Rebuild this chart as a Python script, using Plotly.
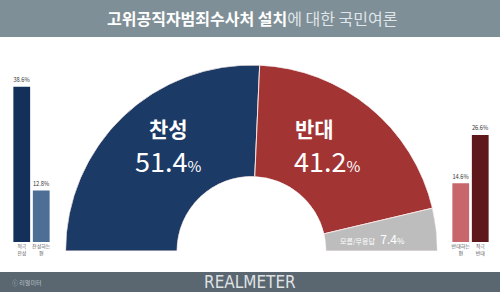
import plotly.graph_objects as go

# Data
main_labels = ["찬성", "반대", "모름/무응답"]
main_values = [51.4, 41.2, 7.4]
main_colors = ["#1c3a66", "#a23434", "#bdbdbd"]

left_cats = ["적극<br>찬성", "찬성하는<br>편"]
left_vals = [38.6, 12.8]
left_colors = ["#13305a", "#4d6f96"]

right_cats = ["반대하는<br>편", "적극<br>반대"]
right_vals = [14.6, 26.6]
right_colors = ["#c7676c", "#5e171b"]

FONT = "Noto Sans CJK KR"
W, H = 500, 292

def py(px):
    return (H - px) / H

def pxx(px):
    return px / W

# half donut via barpolar
total = sum(main_values)
widths = [v / total * 180 for v in main_values]
centers = []
acc = 0
for w in widths:
    centers.append(acc + w / 2)
    acc += w

fig = go.Figure()
fig.add_trace(go.Barpolar(
    r=[1] * len(main_values), theta=centers, width=widths,
    marker=dict(color=main_colors, line=dict(color="#f4e4e4", width=1)),
    subplot="polar", showlegend=False, hoverinfo="skip",
))

fig.add_trace(go.Bar(
    x=left_cats, y=left_vals, marker=dict(color=left_colors, line_width=0),
    text=[f"{v}%" for v in left_vals], textposition="outside",
    textfont=dict(size=7, color="#333333", family=FONT), cliponaxis=False,
    xaxis="x", yaxis="y", showlegend=False, width=0.86,
))
fig.add_trace(go.Bar(
    x=right_cats, y=right_vals, marker=dict(color=right_colors, line_width=0),
    text=[f"{v}%" for v in right_vals], textposition="outside",
    textfont=dict(size=7, color="#333333", family=FONT), cliponaxis=False,
    xaxis="x2", yaxis="y2", showlegend=False, width=0.86,
))

ymax = (242 - 62) / 4.02
axis_common = dict(showgrid=False, zeroline=False, showline=False)
fig.update_layout(
    width=W, height=H, margin=dict(l=0, r=0, t=0, b=0),
    paper_bgcolor="white", plot_bgcolor="rgba(0,0,0,0)",
    font=dict(family=FONT),
    bargap=0.1,
    polar=dict(
        domain=dict(x=[pxx(65), pxx(438)], y=[py(251), py(65)]),
        sector=[0, 180], hole=0.4, bgcolor="rgba(0,0,0,0)",
        radialaxis=dict(visible=False, range=[0, 1]),
        angularaxis=dict(visible=False, rotation=180, direction="clockwise"),
    ),
    xaxis=dict(domain=[pxx(12), pxx(51)], tickfont=dict(size=5, color="#555555"),
               ticks="", **axis_common),
    yaxis=dict(domain=[py(242), py(62)], range=[0, ymax], visible=False, **axis_common),
    xaxis2=dict(domain=[pxx(451), pxx(490)], tickfont=dict(size=5, color="#555555"),
                ticks="", **axis_common),
    yaxis2=dict(domain=[py(242), py(62)], range=[0, ymax], visible=False, **axis_common),
)

# header & footer bands
fig.add_shape(type="rect", xref="paper", yref="paper", x0=0, x1=1, y0=py(37), y1=1,
              fillcolor="#7f8f97", line_width=0, layer="below")
fig.add_shape(type="rect", xref="paper", yref="paper", x0=0, x1=1, y0=0, y1=py(272),
              fillcolor="#5a6670", line_width=0, layer="below")

def ann(x, y, text, size, color="white", family=FONT, xanchor="center"):
    fig.add_annotation(xref="paper", yref="paper", x=pxx(x), y=py(y), showarrow=False,
                       xanchor=xanchor, yanchor="middle", text=text,
                       font=dict(size=size, color=color, family=family))

ann(252, 18, "<b>고위공직자범죄수사처 설치</b><span style='color:#dfe5e8'>에 대한 국민여론</span>", 16)
ann(250, 282, "REALMETER", 17, "#dfe2e5", "Liberation Sans Narrow, DejaVu Sans Condensed")
ann(10, 282, "ⓒ 리얼미터", 6, "#b8c0c6", xanchor="left")

# donut labels
ann(168, 128, "<b>" + main_labels[0] + "</b>", 21)
ann(168, 160, f"{main_values[0]}<span style='font-size:15px'>%</span>", 27)
ann(314, 128, "<b>" + main_labels[1] + "</b>", 21)
ann(327, 160, f"{main_values[1]}<span style='font-size:15px'>%</span>", 27)
ann(372, 238, f"<span style='font-size:7px'>{main_labels[2]}</span>  {main_values[2]}<span style='font-size:8px'>%</span>", 12)

fig.write_html("out.html")
